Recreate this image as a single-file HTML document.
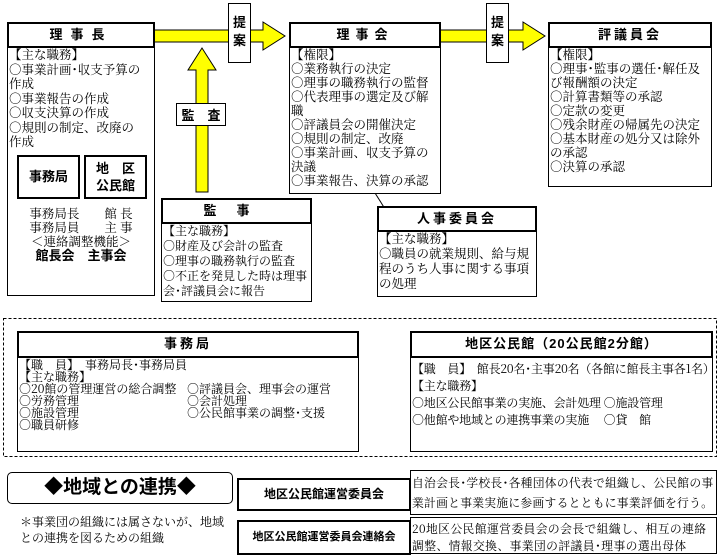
<!DOCTYPE html><html><head><meta charset="utf-8"><style>
body{margin:0;width:720px;height:560px;background:#fff;position:relative;overflow:hidden;font-family:"Noto Serif CJK SC","Liberation Serif",serif;font-size:12.5px;line-height:14.5px;color:#000}
.a{position:absolute;box-sizing:border-box}
.h{border:2.5px solid #000;background:#fff;font-family:"Liberation Sans","Noto Sans CJK JP",sans-serif;font-weight:bold;font-size:13px;text-align:center;letter-spacing:3px}
.b{border:1px solid #000;background:#fff;padding:2px 1px}
.s{font-size:12px;letter-spacing:0}
.g{font-family:"Liberation Sans","Noto Sans CJK JP",sans-serif;font-weight:bold}
</style></head><body>
<svg class="a" style="left:0;top:0" width="720" height="560">
<polygon points="154,30 263,30 263,22 285,36 263,50 263,42 154,42" fill="#ff0" stroke="#000"/>
<polygon points="440,30 523,30 523,22 545,36 523,50 523,42 440,42" fill="#ff0" stroke="#000"/>
<polygon points="196,192 196,70 188,70 202,48 216,70 208,70 208,192" fill="#ff0" stroke="#000"/>
<line x1="375" y1="193" x2="392" y2="220" stroke="#000"/>
<rect x="3.5" y="318.5" width="713" height="138" fill="none" stroke="#000" stroke-dasharray="3,2"/>
</svg>
<div class="a b g" style="left:228px;top:3px;width:23px;height:60px;font-size:13px;line-height:18px;text-align:center;padding-top:10px">提<br>案</div>
<div class="a b g" style="left:486px;top:3px;width:23px;height:60px;font-size:13px;line-height:18px;text-align:center;padding-top:10px">提<br>案</div>
<div class="a b g" style="left:176px;top:103px;width:50px;height:23px;font-size:13px;line-height:20px;text-align:center">監　査</div>

<div class="a b" style="left:7px;top:44px;width:148px;height:252px;padding-right:8px;line-height:14.5px">【主な職務】<br>○事業計画･収支予算の作成<br>○事業報告の作成<br>○収支決算の作成<br>○規則の制定、改廃の作成</div>
<div class="a h" style="left:7px;top:22px;width:148px;height:26px;line-height:21px;letter-spacing:8px">理事長</div>
<div class="a g" style="left:17px;top:155px;width:63px;height:44px;border:2.5px solid #000;font-size:13px;line-height:39px;text-align:center">事務局</div>
<div class="a g" style="left:84px;top:155px;width:63px;height:44px;border:2.5px solid #000;font-size:13px;line-height:17px;text-align:center;padding-top:3px">地　区<br>公民館</div>
<div class="a" style="left:10px;top:206px;width:142px;text-align:center;line-height:14px">事務局長　　館 長<br>事務局員　　主 事<br>＜連絡調整機能＞<br><span class="g" style="font-size:13px">館長会　主事会</span></div>

<div class="a b" style="left:289px;top:44px;width:152px;height:150px;line-height:14px">【権限】<br>○業務執行の決定<br>○理事の職務執行の監督<br>○代表理事の選定及び解職<br>○評議員会の開催決定<br>○規則の制定、改廃<br>○事業計画、収支予算の決議<br>○事業報告、決算の承認</div>
<div class="a h" style="left:289px;top:22px;width:152px;height:26px;line-height:21px;letter-spacing:6px">理事会</div>

<div class="a b" style="left:548px;top:44px;width:164px;height:143px;line-height:14px">【権限】<br>○理事･監事の選任･解任及び報酬額の決定<br>○計算書類等の承認<br>○定款の変更<br>○残余財産の帰属先の決定<br>○基本財産の処分又は除外の承認<br>○決算の承認</div>
<div class="a h" style="left:548px;top:22px;width:164px;height:26px;line-height:21px">評議員会</div>

<div class="a b" style="left:161px;top:220px;width:151px;height:82px;line-height:15px;font-size:12px">【主な職務】<br>○財産及び会計の監査<br>○理事の職務執行の監査<br>○不正を発見した時は理事会･評議員会に報告</div>
<div class="a h" style="left:161px;top:198px;width:151px;height:26px;line-height:21px;letter-spacing:20px">監事</div>

<div class="a b" style="left:377px;top:228px;width:160px;height:69px;line-height:15px">【主な職務】<br>○職員の就業規則、給与規程のうち人事に関する事項の処理</div>
<div class="a h" style="left:377px;top:206px;width:160px;height:26px;line-height:21px">人事委員会</div>

<div class="a b s" style="left:17px;top:355px;width:342px;height:97px;line-height:12px;padding-top:3px">【職　員】　事務局長･事務局員<br>【主な職務】<br><div style="display:flex"><div style="width:168px">○20館の管理運営の総合調整<br>○労務管理<br>○施設管理<br>○職員研修</div><div>○評議員会、理事会の運営<br>○会計処理<br>○公民館事業の調整･支援</div></div></div>
<div class="a h" style="left:17px;top:331px;width:342px;height:27px;line-height:22px">事務局</div>
<div class="a b s" style="left:410px;top:355px;width:303px;height:97px;line-height:17px;padding-top:4px;white-space:nowrap;letter-spacing:-0.2px">【職　員】　館長20名･主事20名（各館に館長主事各1名）<br>【主な職務】<br>○地区公民館事業の実施、会計処理 ○施設管理<br>○他館や地域との連携事業の実施　 ○貸　館</div>
<div class="a h" style="left:410px;top:331px;width:303px;height:27px;line-height:22px;letter-spacing:1px">地区公民館（20公民館2分館）</div>

<div class="a g" style="left:7px;top:472px;width:226px;height:32px;border:1px solid #000;border-radius:5px;font-size:19px;line-height:30px;text-align:center;font-weight:bold">◆地域との連携◆</div>
<div class="a" style="left:20px;top:514px;width:215px;line-height:16px;font-size:12px">＊事業団の組織には属さないが、地域との連携を図るための組織</div>
<div class="a g" style="left:237px;top:478px;width:174px;height:33px;border:2.5px solid #000;font-size:12px;line-height:28px;text-align:center">地区公民館運営委員会</div>
<div class="a b s" style="left:410px;top:470px;width:307px;height:45px;line-height:20px;letter-spacing:0.25px;font-size:11.8px;padding-right:2px">自治会長･学校長･各種団体の代表で組織し、公民館の事業計画と事業実施に参画するとともに事業評価を行う。</div>
<div class="a g" style="left:237px;top:520px;width:174px;height:35px;border:2.5px solid #000;font-size:11px;line-height:30px;text-align:center">地区公民館運営委員会連絡会</div>
<div class="a b s" style="left:410px;top:517px;width:307px;height:37px;line-height:17px;letter-spacing:0.4px;font-size:11.8px;padding-right:4px">20地区公民館運営委員会の会長で組織し、相互の連絡調整、情報交換、事業団の評議員･理事の選出母体</div>
</body></html>
